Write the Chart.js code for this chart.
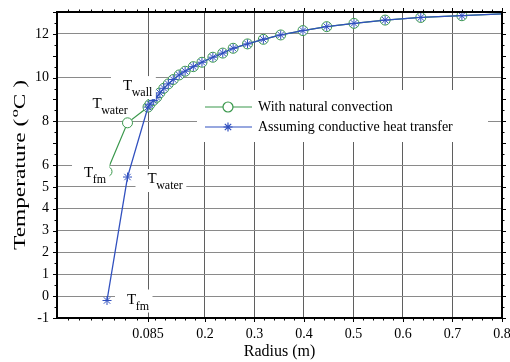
<!DOCTYPE html>
<html><head><meta charset="utf-8">
<script src="https://cdn.jsdelivr.net/npm/chart.js@4.4.1/dist/chart.umd.min.js"></script>
<style>html,body{margin:0;padding:0;background:#fff;}canvas{display:block;}</style>
</head><body>
<canvas id="c" width="510" height="362"></canvas>
<script>
// ---------------- data ----------------
const SERIES_NAMES = ['With natural convection', 'Assuming conductive heat transfer'];
const X_TITLE = 'Radius (m)';
const Y_TITLE_PARTS = ['Temperature (', 'o', 'C )'];
const X_TICKS = [0.085, 0.2, 0.3, 0.4, 0.5, 0.6, 0.7, 0.8];
const X_TICK_LABELS = ['0.085', '0.2', '0.3', '0.4', '0.5', '0.6', '0.7', '0.8'];
const Y_TICKS = [-1, 0, 1, 2, 3, 4, 5, 6, 8, 10, 12];
const Y_TICK_LABELS = ['-1', '0', '1', '2', '3', '4', '5', '6', '8', '10', '12'];
// inner nodes: frozen material (fm), water
const R_INNER = [0.080, 0.0825];
const T_INNER_CONV = [5.7, 7.93];
const T_INNER_COND = [-0.2, 5.45];
// wall and soil nodes
const R_MAIN = [0.085, 0.089, 0.0957, 0.1026, 0.109, 0.117, 0.126, 0.136, 0.148, 0.160, 0.1765, 0.194, 0.216, 0.236, 0.257, 0.286, 0.318, 0.353, 0.398, 0.446, 0.501, 0.564, 0.636, 0.719, 0.800];
const T_MAIN = [8.65, 8.78, 8.95, 9.10, 9.30, 9.51, 9.71, 9.91, 10.12, 10.29, 10.50, 10.70, 10.93, 11.12, 11.34, 11.54, 11.75, 11.95, 12.15, 12.33, 12.48, 12.63, 12.75, 12.83, 12.91];
const NODE_LABELS = [
  {main: 'T', sub: 'wall'},
  {main: 'T', sub: 'water'},
  {main: 'T', sub: 'fm'},
  {main: 'T', sub: 'water'},
  {main: 'T', sub: 'fm'}
];

// ---------------- layout / style ----------------
const X_MIN = 0.0739, X_BREAK = 0.085, X_MAX = 0.8, Y_MIN = -1, Y_MAX = 13;
const BREAK_FRAC = 0.2045;
const GREEN = '#3a984c', BLUE = '#3150bf';
const SERIF = '"Liberation Serif", "Times New Roman", serif';
// label anchors: [datasetIndex, pointIndex, dx, dy]
const LABEL_ANCHORS = [[0, 2, -25, -17], [0, 1, -35, -15], [0, 0, -23, 5], [1, 1, 20, 6], [1, 0, 20, 3]];

class BrokenLinearScale extends Chart.LinearScale {
  _dec(v) {
    if (v <= X_BREAK) return BREAK_FRAC * (v - this.min) / (X_BREAK - this.min);
    return BREAK_FRAC + (1 - BREAK_FRAC) * (v - X_BREAK) / (this.max - X_BREAK);
  }
  getPixelForValue(v) {
    if (v === null || v === undefined || isNaN(v)) return NaN;
    return this.getPixelForDecimal(this._dec(v));
  }
  getValueForPixel(p) {
    const d = this.getDecimalForPixel(p);
    if (d <= BREAK_FRAC) return this.min + d / BREAK_FRAC * (X_BREAK - this.min);
    return X_BREAK + (d - BREAK_FRAC) / (1 - BREAK_FRAC) * (this.max - X_BREAK);
  }
}
BrokenLinearScale.id = 'brokenLinear';
BrokenLinearScale.defaults = Chart.LinearScale.defaults;
Chart.register(BrokenLinearScale);

const convData = R_INNER.map((r, i) => ({x: r, y: T_INNER_CONV[i]})).concat(R_MAIN.map((r, i) => ({x: r, y: T_MAIN[i]})));
const condData = R_INNER.map((r, i) => ({x: r, y: T_INNER_COND[i]})).concat(R_MAIN.map((r, i) => ({x: r, y: T_MAIN[i]})));

const overlay = {
  id: 'overlay',
  afterDatasetsDraw(chart) {
    const ctx = chart.ctx, a = chart.chartArea;
    ctx.save();
    // node labels with white background
    NODE_LABELS.forEach((lab, k) => {
      const [ds, idx, dx, dy] = LABEL_ANCHORS[k];
      const el = chart.getDatasetMeta(ds).data[idx];
      const px = el.x + dx, py = el.y + dy;
      ctx.font = '15px ' + SERIF;
      const w1 = ctx.measureText(lab.main).width;
      ctx.font = '12px ' + SERIF;
      const w2 = ctx.measureText(lab.sub).width;
      ctx.fillStyle = '#fff';
      ctx.fillRect(px - 12, py - 14, w1 + w2 + 15, 23);
      ctx.fillStyle = '#000';
      ctx.textBaseline = 'alphabetic';
      ctx.textAlign = 'left';
      ctx.font = '15px ' + SERIF;
      ctx.fillText(lab.main, px, py);
      ctx.font = '12px ' + SERIF;
      ctx.fillText(lab.sub, px + w1 - 0.5, py + 6);
    });
    // legend
    const lx = a.left + 140, ly = a.top + 78;
    ctx.fillStyle = '#fff';
    ctx.fillRect(lx, ly, 291, 52);
    chart.data.datasets.forEach((d, i) => {
      const y = ly + 17 + i * 20;
      ctx.strokeStyle = d.borderColor;
      ctx.lineWidth = 1.2;
      ctx.beginPath();
      ctx.moveTo(lx + 8, y);
      ctx.lineTo(lx + 55, y);
      ctx.stroke();
      ctx.fillStyle = d.pointBackgroundColor;
      ctx.strokeStyle = d.borderColor;
      Chart.helpers.drawPoint(ctx, {pointStyle: d.pointStyle, radius: d.legendRadius, borderWidth: 1, rotation: 0}, lx + 31, y);
      ctx.fillStyle = '#000';
      ctx.font = '14px ' + SERIF;
      ctx.textBaseline = 'middle';
      ctx.textAlign = 'left';
      ctx.fillText(d.label, lx + 61, y);
    });
    ctx.restore();
  },
  afterDraw(chart) {
    const ctx = chart.ctx, a = chart.chartArea, xs = chart.scales.x, ys = chart.scales.y;
    ctx.save();
    ctx.strokeStyle = '#000';
    ctx.lineWidth = 1;
    ctx.beginPath();
    const xt = (v, len) => {
      const p = Math.round(xs.getPixelForValue(v)) + 0.5;
      ctx.moveTo(p, a.bottom); ctx.lineTo(p, a.bottom + len);
      ctx.moveTo(p, a.top); ctx.lineTo(p, a.top - len);
    };
    const yt = (v, len) => {
      const p = Math.round(ys.getPixelForValue(v)) + 0.5;
      ctx.moveTo(a.left, p); ctx.lineTo(a.left - len, p);
      ctx.moveTo(a.right, p); ctx.lineTo(a.right + len, p);
    };
    X_TICKS.forEach(v => xt(v, 4));
    for (let k = 5; k <= 39; k++) { const v = k * 0.02; if (Math.abs(v * 10 - Math.round(v * 10)) > 1e-6) xt(v, 2.5); }
    xt(0.1, 2.5);
    for (let k = 1; X_BREAK - k * 0.0014 > X_MIN; k++) xt(X_BREAK - k * 0.0014, 2.5);
    for (let v = Y_MIN; v <= Y_MAX; v++) yt(v, 4);
    for (let v = Y_MIN + 0.5; v < Y_MAX; v++) yt(v, 2.5);
    ctx.stroke();
    ctx.lineWidth = 2;
    ctx.strokeRect(a.left, a.top, a.right - a.left, a.bottom - a.top);
    // axis titles
    ctx.fillStyle = '#000';
    ctx.textBaseline = 'alphabetic';
    ctx.textAlign = 'center';
    ctx.font = '16px ' + SERIF;
    ctx.fillText(X_TITLE, (a.left + a.right) / 2, 356);
    ctx.translate(25, (a.top + a.bottom) / 2);
    ctx.rotate(-Math.PI / 2);
    ctx.textAlign = 'left';
    const fMain = '16px ' + SERIF, fSup = '11px ' + SERIF;
    ctx.font = fMain;
    const w0 = ctx.measureText(Y_TITLE_PARTS[0]).width, w2 = ctx.measureText(Y_TITLE_PARTS[2]).width;
    ctx.font = fSup;
    const w1 = ctx.measureText(Y_TITLE_PARTS[1]).width;
    const total = w0 + w1 + w2 + 1;
    const sc = 170 / total;
    ctx.scale(sc, 1);
    let x0 = -total / 2;
    ctx.font = fMain; ctx.fillText(Y_TITLE_PARTS[0], x0, 0);
    ctx.font = fSup; ctx.fillText(Y_TITLE_PARTS[1], x0 + w0 + 1, -7);
    ctx.font = fMain; ctx.fillText(Y_TITLE_PARTS[2], x0 + w0 + w1 + 1, 0);
    ctx.restore();
  }
};

new Chart(document.getElementById('c'), {
  type: 'line',
  data: {
    datasets: [
      {label: SERIES_NAMES[0], data: convData, borderColor: GREEN, borderWidth: 1.2, pointStyle: 'circle',
       pointRadius: ctx => ctx.dataIndex === convData.length - 1 ? 0 : 5, legendRadius: 5,
       pointBorderColor: GREEN, pointBackgroundColor: '#fff', pointBorderWidth: 1, tension: 0, order: 1},
      {label: SERIES_NAMES[1], data: condData, borderColor: BLUE, borderWidth: 1.3, pointStyle: 'star',
       pointRadius: ctx => ctx.dataIndex === condData.length - 1 ? 0 : 4.5, legendRadius: 4.5,
       pointBorderColor: BLUE, pointBackgroundColor: BLUE, pointBorderWidth: 1, tension: 0, order: 0}
    ]
  },
  options: {
    responsive: false, animation: false, devicePixelRatio: 1,
    layout: {padding: {top: 12, right: 8, left: 0, bottom: 0}},
    plugins: {legend: {display: false}, tooltip: {enabled: false}},
    scales: {
      x: {type: 'brokenLinear', min: X_MIN, max: X_MAX,
        afterBuildTicks: s => { s.ticks = X_TICKS.map(v => ({value: v})); },
        afterFit: s => { s.height = 44; s.paddingLeft = 0; s.paddingRight = 0; },
        ticks: {autoSkip: false, maxRotation: 0, minRotation: 0, padding: 8, color: '#000',
          font: {family: SERIF, size: 14}, callback: (v, i) => X_TICK_LABELS[i]},
        grid: {drawTicks: false, color: '#5f5f5f', lineWidth: 1},
        border: {display: false}},
      y: {type: 'linear', min: Y_MIN, max: Y_MAX,
        afterBuildTicks: s => { s.ticks = Y_TICKS.map(v => ({value: v})); },
        afterFit: s => { s.width = 57; s.paddingTop = 0; s.paddingBottom = 0; },
        ticks: {autoSkip: false, padding: 8, color: '#000', font: {family: SERIF, size: 14},
          callback: (v, i) => Y_TICK_LABELS[i]},
        grid: {drawTicks: false, lineWidth: 1,
          color: ctx => (ctx.tick && ctx.tick.value === Y_MIN) ? 'rgba(0,0,0,0)' : '#8a8a8a'},
        border: {display: false}}
    }
  },
  plugins: [overlay]
});
</script>
</body></html>
